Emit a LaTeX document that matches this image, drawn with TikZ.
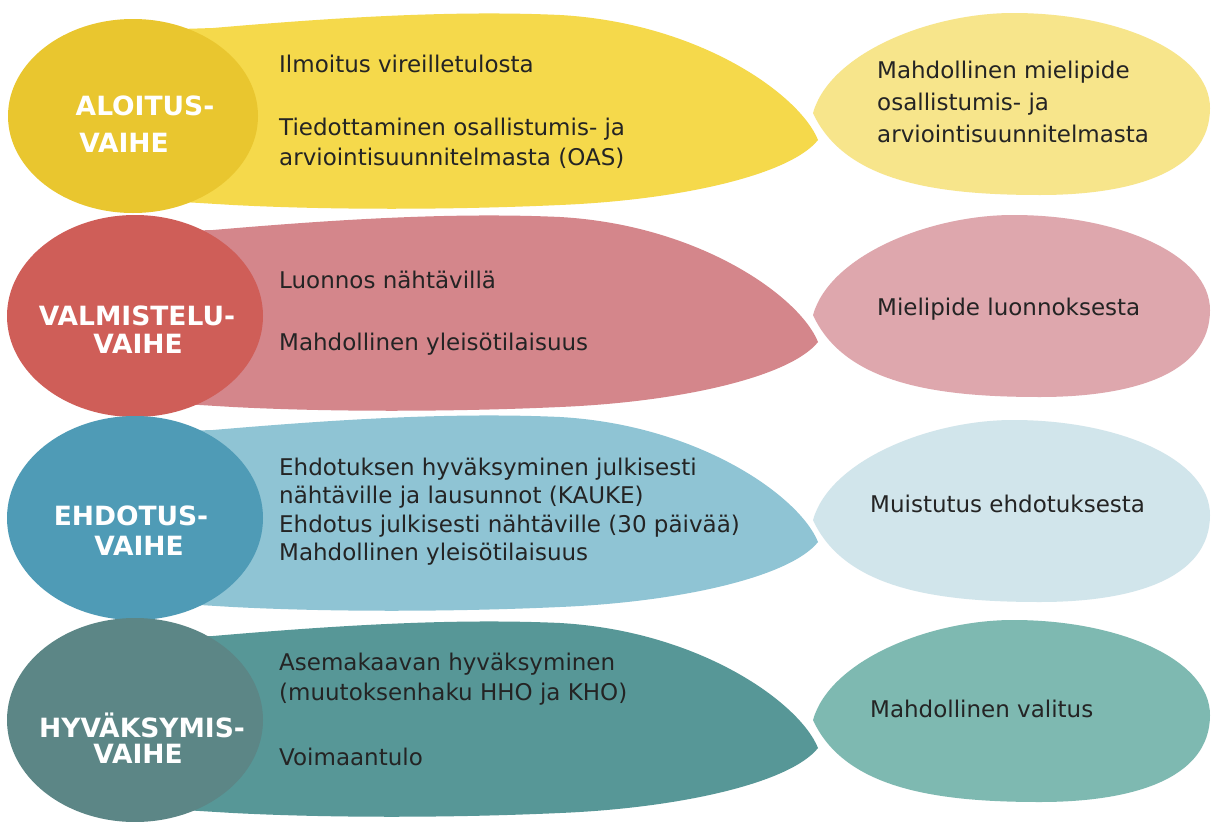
\documentclass[tikz,border=0pt]{standalone}
\usepackage{fontspec}
\setmainfont{DejaVu Sans}
\definecolor{cA}{HTML}{E9C62F}\definecolor{tA}{HTML}{F5D94B}\definecolor{bA}{HTML}{F7E58B}
\definecolor{cB}{HTML}{CF5E58}\definecolor{tB}{HTML}{D4868B}\definecolor{bB}{HTML}{DEA7AD}
\definecolor{cC}{HTML}{4F9BB6}\definecolor{tC}{HTML}{8FC4D4}\definecolor{bC}{HTML}{D1E5EB}
\definecolor{cD}{HTML}{5C8686}\definecolor{tD}{HTML}{579797}\definecolor{bD}{HTML}{7EB9B1}
\definecolor{bodytxt}{HTML}{242424}
\newcommand\mytongue[2]{\begin{scope}[shift={(0,#2)}]
\fill[#1] (150,15) -- (213,13) .. controls (330,3) and (450,-5) .. (560,0)
  .. controls (700,8) and (800,80) .. (818,125)
  .. controls (790,160) and (680,185) .. (560,190)
  .. controls (450,195) and (330,195) .. (233,190) -- (150,185) -- cycle;
\end{scope}}
\newcommand\mybubble[2]{\begin{scope}[shift={(0,#2)}]
\fill[#1] (813,100) .. controls (830,40) and (930,0) .. (1013,0)
  .. controls (1120,0) and (1210,40) .. (1210,95)
  .. controls (1210,160) and (1130,182) .. (1040,182)
  .. controls (940,182) and (845,170) .. (813,100) -- cycle;
\end{scope}}
\begin{document}
\begin{tikzpicture}[x=1pt,y=-1pt,
  body/.style={anchor=base west,font=\fontsize{23}{28}\selectfont,text=bodytxt,inner sep=0pt},
  head/.style={anchor=base,font=\bfseries\fontsize{26.5}{30}\selectfont,text=white,inner sep=0pt}]
\useasboundingbox[fill=white] (0,0) rectangle (1211,822);
% tongues
\mytongue{tA}{15}
\mytongue{tB}{217}
\mytongue{tC}{417}
\mytongue{tD}{623}
% right bubbles
\mybubble{bA}{13}
\mybubble{bB}{215}
\mybubble{bC}{420}
\mybubble{bD}{620}
% circles
\fill[cA] (133,116) ellipse [x radius=125pt, y radius=97pt];
\fill[cB] (135,316) ellipse [x radius=128pt, y radius=101pt];
\fill[cC] (135,518) ellipse [x radius=128pt, y radius=102pt];
\fill[cD] (135,720) ellipse [x radius=128pt, y radius=102pt];
% headings
\node[head] (h1a) at (145,115) {ALOITUS-};
\node[head] (h1b) at (124,152) {VAIHE};
\node[head] (h2a) at (137,325) {VALMISTELU-};
\node[head] (h2b) at (138,353) {VAIHE};
\node[head] (h3a) at (131,525) {EHDOTUS-};
\node[head] (h3b) at (139,555) {VAIHE};
\node[head] (h4a) at (142,737) {HYVÄKSYMIS-};
\node[head] (h4b) at (138,763) {VAIHE};
% body texts
\node[body] (t1a) at (279,72) {Ilmoitus vireilletulosta};
\node[body] (t1b) at (279,135) {Tiedottaminen osallistumis- ja};
\node[body] (t1c) at (279,165) {arviointisuunnitelmasta (OAS)};
\node[body] (t2a) at (279,288) {Luonnos nähtävillä};
\node[body] (t2b) at (279,350) {Mahdollinen yleisötilaisuus};
\node[body] (t3a) at (279,475) {Ehdotuksen hyväksyminen julkisesti};
\node[body] (t3b) at (279,503) {nähtäville ja lausunnot (KAUKE)};
\node[body] (t3c) at (279,532) {Ehdotus julkisesti nähtäville (30 päivää)};
\node[body] (t3d) at (279,560) {Mahdollinen yleisötilaisuus};
\node[body] (t4a) at (279,670) {Asemakaavan hyväksyminen};
\node[body] (t4b) at (279,700) {(muutoksenhaku HHO ja KHO)};
\node[body] (t4c) at (279,765) {Voimaantulo};
% right texts
\node[body] (r1a) at (877,78) {Mahdollinen mielipide};
\node[body] (r1b) at (877,110) {osallistumis- ja};
\node[body] (r1c) at (877,142) {arviointisuunnitelmasta};
\node[body] (r2) at (877,315) {Mielipide luonnoksesta};
\node[body] (r3) at (870,512) {Muistutus ehdotuksesta};
\node[body] (r4) at (870,717) {Mahdollinen valitus};
\end{tikzpicture}
\end{document}
